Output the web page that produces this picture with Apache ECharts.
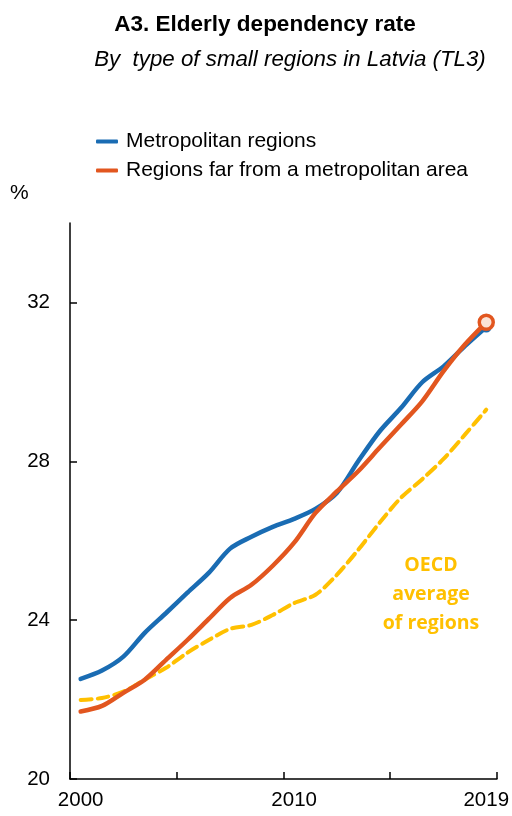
<!DOCTYPE html>
<html>
<head>
<meta charset="utf-8">
<script src="https://cdn.jsdelivr.net/npm/echarts@6/dist/echarts.min.js"></script>
<style>html,body{margin:0;padding:0;background:#fff}#c{width:512px;height:816px}</style>
</head>
<body>
<div id="c"></div>
<script>
const years = ['2000','2001','2002','2003','2004','2005','2006','2007','2008','2009','2010','2011','2012','2013','2014','2015','2016','2017','2018','2019'];
const metro = [22.52,22.73,23.08,23.68,24.18,24.69,25.19,25.80,26.10,26.35,26.55,26.80,27.20,28.00,28.75,29.34,29.99,30.39,30.90,31.38];
const far   = [21.70,21.84,22.17,22.50,23.00,23.50,24.03,24.56,24.89,25.37,25.95,26.70,27.24,27.75,28.34,28.92,29.51,30.27,30.94,31.50];
const oecd  = [21.99,22.04,22.20,22.50,22.80,23.18,23.50,23.78,23.88,24.13,24.43,24.64,25.14,25.77,26.45,27.08,27.55,28.06,28.67,29.30];
const yTicks = [20,24,28,32];
const xLabelYears = ['2000','2010','2019'];
const seriesNames = ['Metropolitan regions','Regions far from a metropolitan area','OECD average of regions'];

const SANS = "'Liberation Sans Narrow','Arial Narrow','Liberation Sans',Arial,sans-serif";
const BLUE = '#1a6cb3', ORANGE = '#e2561f', YELLOW = '#ffc000';

const chart = echarts.init(document.getElementById('c'), null, {renderer:'canvas'});
chart.setOption({
  animation: false,
  backgroundColor: '#fff',
  title: [
    {text: 'A3. Elderly dependency rate', left: 260, top: 8, textAlign: 'center',
     textStyle: {fontFamily: SANS, fontWeight: 'bold', fontSize: 22.5, color: '#000'}},
    {text: 'By  type of small regions in Latvia (TL3)', left: 285, top: 44, textAlign: 'center',
     textStyle: {fontFamily: SANS, fontWeight: 'normal', fontStyle: 'italic', fontSize: 22.3, color: '#000'}}
  ],
  legend: {
    data: [
      {name: seriesNames[0], itemStyle: {color: BLUE, borderWidth: 0}},
      {name: seriesNames[1], itemStyle: {color: ORANGE, borderWidth: 0}}
    ],
    orient: 'vertical', left: 91, top: 126,
    icon: 'roundRect', itemWidth: 22, itemHeight: 4, itemGap: 8,
    textStyle: {fontFamily: SANS, fontSize: 21, color: '#000', lineHeight: 21, padding: [0,0,0,3]}
  },
  grid: {left: 70, right: 13, top: 223, bottom: 37, containLabel: false},
  xAxis: {
    type: 'category', data: years, boundaryGap: true,
    axisLine: {show: true, lineStyle: {color: '#000', width: 1.5}},
    axisTick: {show: true, inside: true, length: 7, interval: 4, alignWithLabel: false, lineStyle: {color: '#000', width: 1.5}},
    axisLabel: {
      interval: function (i, v) { return xLabelYears.indexOf(v) >= 0; },
      fontFamily: SANS, fontSize: 20.5, color: '#000', margin: 11
    },
    splitLine: {show: false}
  },
  yAxis: {
    type: 'value', min: 20, max: 34, interval: 2,
    axisLine: {show: true, lineStyle: {color: '#000', width: 1.5}},
    axisTick: {show: true, inside: true, length: 7, customValues: yTicks, lineStyle: {color: '#000', width: 1.5}},
    axisLabel: {customValues: yTicks, fontFamily: SANS, fontSize: 20.5, color: '#000', margin: 20},
    splitLine: {show: false}
  },
  graphic: [
    {type: 'text', left: 10, top: 183, style: {text: '%', font: "21px " + SANS, fill: '#000'}},
    {type: 'text', x: 431, y: 594, style: {text: 'OECD\naverage\nof regions', font: "bold 19.5px 'Open Sans',sans-serif",
      fill: YELLOW, textAlign: 'center', textVerticalAlign: 'middle', lineHeight: 29}}
  ],
  series: [
    {name: seriesNames[2], type: 'line', data: oecd, smooth: 0.3, symbol: 'none', z: 2,
     lineStyle: {color: YELLOW, width: 4, type: [11, 6], cap: 'round'}, itemStyle: {color: YELLOW}},
    {name: seriesNames[0], type: 'line', data: metro, smooth: 0.3, z: 3,
     symbol: 'circle', symbolSize: function (v, p) { return p.dataIndex === years.length - 1 ? 11 : 0; },
     showSymbol: true,
     lineStyle: {color: BLUE, width: 4.5, cap: 'round'}, itemStyle: {color: BLUE}},
    {name: seriesNames[1], type: 'line', data: far, smooth: 0.3, z: 4,
     symbol: 'circle', symbolSize: function (v, p) { return p.dataIndex === years.length - 1 ? 14 : 0; },
     showSymbol: true,
     lineStyle: {color: ORANGE, width: 4.5, cap: 'round'},
     itemStyle: {color: '#fbe3d6', borderColor: ORANGE, borderWidth: 3.5}}
  ]
});
</script>
</body>
</html>
